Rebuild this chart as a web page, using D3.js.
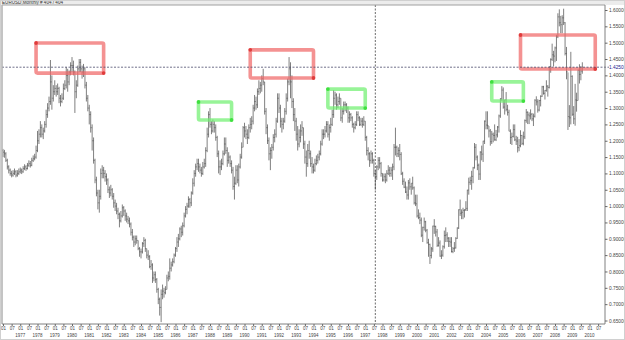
<!DOCTYPE html>
<html><head><meta charset="utf-8">
<script src="https://cdn.jsdelivr.net/npm/d3@7"></script>
<style>
html,body{margin:0;padding:0;background:#fff;}
svg{display:block;font-family:"Liberation Sans",Arial,sans-serif;}
</style></head>
<body>
<svg id="chart" width="625" height="340"></svg>
<script>
// ---------- DATA (EURUSD monthly, Jan 1976 .. Aug 2009) ----------
const title = "EURUSD,Monthly  # 404 / 404";
const startYear = 1976;
const firstOpen = 1.17;
const closes = [
 1.165,1.16,1.14,1.12,1.11,1.10,1.095,1.10,1.105,1.095,1.10,1.105,
 1.11,1.105,1.115,1.12,1.115,1.125,1.13,1.125,1.14,1.145,1.15,1.17,
 1.20,1.22,1.24,1.22,1.23,1.25,1.28,1.30,1.32,1.38,1.33,1.35,
 1.36,1.35,1.36,1.33,1.32,1.33,1.36,1.37,1.40,1.38,1.41,1.43,
 1.43,1.41,1.35,1.37,1.42,1.44,1.42,1.41,1.42,1.37,1.33,1.30,
 1.28,1.24,1.20,1.14,1.08,1.04,1.01,1.03,1.10,1.11,1.10,1.09,
 1.08,1.05,1.04,1.05,1.03,1.01,1.00,0.985,0.975,0.955,0.97,0.995,
 0.985,0.97,0.96,0.955,0.945,0.92,0.905,0.89,0.90,0.895,0.87,0.86,
 0.86,0.885,0.895,0.87,0.85,0.845,0.815,0.82,0.78,0.79,0.775,0.745,
 0.715,0.69,0.73,0.74,0.735,0.745,0.78,0.785,0.81,0.82,0.83,0.85,
 0.87,0.89,0.90,0.93,0.92,0.94,0.97,0.99,1.00,1.02,1.01,1.04,
 1.07,1.10,1.12,1.13,1.12,1.11,1.10,1.12,1.13,1.17,1.22,1.28,
 1.25,1.23,1.25,1.24,1.21,1.16,1.12,1.12,1.13,1.16,1.19,1.17,
 1.14,1.15,1.13,1.11,1.06,1.07,1.11,1.08,1.12,1.15,1.18,1.24,
 1.23,1.22,1.21,1.24,1.25,1.26,1.30,1.32,1.31,1.35,1.36,1.37,
 1.39,1.38,1.29,1.24,1.20,1.16,1.17,1.18,1.21,1.22,1.26,1.33,
 1.30,1.26,1.25,1.26,1.29,1.33,1.38,1.42,1.38,1.32,1.28,1.26,
 1.22,1.19,1.21,1.23,1.24,1.19,1.15,1.13,1.17,1.16,1.13,1.12,
 1.11,1.13,1.14,1.15,1.16,1.19,1.22,1.22,1.23,1.25,1.22,1.24,
 1.25,1.28,1.33,1.34,1.31,1.32,1.33,1.27,1.29,1.31,1.31,1.30,
 1.27,1.28,1.27,1.25,1.24,1.25,1.28,1.27,1.25,1.26,1.25,1.26,
 1.21,1.17,1.16,1.14,1.16,1.14,1.10,1.09,1.12,1.14,1.13,1.10,
 1.08,1.09,1.08,1.10,1.11,1.10,1.11,1.12,1.18,1.18,1.16,1.17,
 1.158,1.099,1.076,1.058,1.043,1.034,1.071,1.059,1.070,1.056,1.010,1.007,
 0.970,0.965,0.957,0.911,0.935,0.952,0.926,0.888,0.883,0.849,0.869,0.939,
 0.938,0.921,0.880,0.887,0.847,0.850,0.876,0.910,0.912,0.902,0.892,0.890,
 0.861,0.870,0.872,0.901,0.933,0.989,0.978,0.981,0.987,0.989,0.993,1.049,
 1.073,1.078,1.091,1.117,1.180,1.150,1.125,1.098,1.165,1.159,1.199,1.260,
 1.248,1.246,1.230,1.197,1.220,1.216,1.203,1.218,1.242,1.276,1.328,1.355,
 1.303,1.325,1.296,1.287,1.229,1.210,1.213,1.234,1.203,1.199,1.179,1.185,
 1.216,1.192,1.212,1.262,1.287,1.279,1.276,1.281,1.267,1.275,1.324,1.319,
 1.294,1.323,1.336,1.365,1.345,1.354,1.367,1.363,1.427,1.449,1.463,1.459,
 1.484,1.518,1.579,1.561,1.555,1.576,1.561,1.467,1.411,1.274,1.270,1.397,
 1.281,1.267,1.325,1.323,1.416,1.403,1.413,1.42501
];
const highs = [
 1.175,1.172,1.165,1.145,1.125,1.115,1.108,1.11,1.115,1.11,1.11,1.115,
 1.118,1.115,1.122,1.128,1.125,1.132,1.14,1.138,1.148,1.155,1.16,1.185,
 1.23,1.235,1.26,1.25,1.24,1.26,1.295,1.315,1.335,1.447,1.40,1.37,
 1.385,1.37,1.375,1.365,1.34,1.345,1.375,1.385,1.425,1.42,1.415,1.44,
 1.456,1.445,1.415,1.385,1.43,1.45,1.45,1.43,1.435,1.425,1.38,1.34,
 1.31,1.29,1.25,1.21,1.145,1.09,1.05,1.05,1.115,1.125,1.12,1.11,
 1.10,1.085,1.06,1.065,1.055,1.04,1.02,1.01,0.995,0.98,0.985,1.005,
 1.00,0.99,0.98,0.97,0.965,0.95,0.93,0.91,0.91,0.91,0.895,0.875,
 0.87,0.89,0.905,0.90,0.87,0.865,0.85,0.835,0.825,0.80,0.80,0.78,
 0.75,0.72,0.745,0.76,0.75,0.755,0.79,0.80,0.84,0.83,0.84,0.855,
 0.875,0.905,0.915,0.935,0.94,0.95,0.98,1.00,1.01,1.03,1.025,1.045,
 1.085,1.11,1.13,1.145,1.145,1.13,1.12,1.135,1.145,1.18,1.24,1.29,
 1.30,1.26,1.265,1.26,1.25,1.215,1.17,1.14,1.145,1.17,1.21,1.21,
 1.18,1.165,1.155,1.14,1.12,1.09,1.125,1.125,1.13,1.16,1.195,1.245,
 1.255,1.245,1.235,1.25,1.27,1.275,1.31,1.34,1.335,1.36,1.385,1.38,
 1.40,1.42,1.38,1.30,1.25,1.21,1.18,1.19,1.22,1.235,1.27,1.345,
 1.345,1.31,1.27,1.27,1.30,1.345,1.39,1.456,1.44,1.40,1.33,1.30,
 1.27,1.245,1.235,1.25,1.26,1.24,1.20,1.17,1.19,1.20,1.17,1.15,
 1.13,1.145,1.155,1.16,1.17,1.20,1.235,1.235,1.245,1.26,1.26,1.25,
 1.27,1.295,1.355,1.35,1.345,1.335,1.345,1.33,1.30,1.32,1.32,1.315,
 1.305,1.29,1.285,1.275,1.255,1.26,1.29,1.29,1.275,1.27,1.27,1.275,
 1.26,1.215,1.18,1.165,1.17,1.165,1.145,1.11,1.125,1.15,1.15,1.135,
 1.10,1.10,1.10,1.11,1.125,1.12,1.12,1.13,1.19,1.24,1.185,1.18,
 1.19,1.165,1.105,1.085,1.075,1.06,1.08,1.085,1.07,1.09,1.06,1.035,
 1.035,0.99,0.98,0.965,0.937,0.965,0.955,0.93,0.90,0.885,0.875,0.94,
 0.96,0.94,0.93,0.905,0.895,0.865,0.88,0.925,0.935,0.92,0.905,0.905,
 0.905,0.875,0.89,0.905,0.935,0.99,1.02,0.99,0.995,0.99,1.015,1.05,
 1.087,1.09,1.108,1.12,1.193,1.19,1.155,1.13,1.168,1.185,1.20,1.262,
 1.29,1.29,1.245,1.236,1.23,1.225,1.25,1.233,1.245,1.28,1.33,1.367,
 1.363,1.325,1.349,1.31,1.295,1.235,1.225,1.25,1.25,1.215,1.212,1.205,
 1.232,1.218,1.228,1.265,1.297,1.29,1.287,1.296,1.285,1.283,1.327,1.336,
 1.327,1.325,1.339,1.368,1.368,1.355,1.385,1.37,1.427,1.452,1.497,1.475,
 1.488,1.524,1.590,1.602,1.582,1.584,1.604,1.563,1.487,1.409,1.309,1.472,
 1.400,1.306,1.374,1.347,1.418,1.434,1.428,1.440
];
const lows = [
 1.150,1.148,1.135,1.112,1.10,1.093,1.088,1.09,1.095,1.088,1.09,1.095,
 1.10,1.098,1.102,1.11,1.108,1.112,1.12,1.118,1.122,1.135,1.14,1.145,
 1.165,1.19,1.21,1.21,1.205,1.225,1.24,1.27,1.29,1.31,1.295,1.32,
 1.34,1.335,1.34,1.315,1.305,1.315,1.325,1.355,1.36,1.35,1.37,1.40,
 1.41,1.40,1.285,1.33,1.365,1.41,1.41,1.39,1.395,1.36,1.32,1.29,
 1.25,1.225,1.17,1.13,1.07,1.03,0.99,0.98,1.02,1.085,1.085,1.075,
 1.065,1.04,1.025,1.03,1.02,0.995,0.985,0.975,0.96,0.935,0.95,0.965,
 0.97,0.955,0.95,0.945,0.935,0.91,0.895,0.875,0.88,0.885,0.865,0.845,
 0.84,0.855,0.875,0.86,0.84,0.835,0.81,0.805,0.765,0.77,0.765,0.735,
 0.70,0.665,0.645,0.715,0.72,0.73,0.745,0.77,0.775,0.80,0.815,0.825,
 0.845,0.86,0.875,0.895,0.905,0.91,0.935,0.965,0.975,0.995,0.995,1.00,
 1.035,1.06,1.09,1.11,1.105,1.10,1.09,1.095,1.115,1.12,1.165,1.21,
 1.24,1.22,1.225,1.225,1.20,1.15,1.10,1.095,1.11,1.125,1.155,1.16,
 1.12,1.13,1.12,1.10,1.05,1.02,1.065,1.07,1.06,1.115,1.145,1.18,
 1.21,1.205,1.19,1.205,1.225,1.235,1.25,1.29,1.295,1.30,1.34,1.345,
 1.35,1.37,1.28,1.22,1.19,1.14,1.11,1.145,1.17,1.195,1.21,1.255,
 1.285,1.24,1.225,1.235,1.255,1.28,1.32,1.37,1.33,1.30,1.26,1.23,
 1.20,1.17,1.18,1.195,1.215,1.175,1.13,1.09,1.12,1.145,1.12,1.10,
 1.10,1.105,1.125,1.13,1.14,1.155,1.185,1.205,1.21,1.225,1.21,1.20,
 1.225,1.245,1.27,1.31,1.295,1.30,1.31,1.26,1.255,1.28,1.29,1.285,
 1.255,1.255,1.26,1.24,1.225,1.235,1.245,1.26,1.245,1.245,1.24,1.245,
 1.20,1.155,1.14,1.12,1.13,1.13,1.09,1.05,1.08,1.11,1.115,1.09,
 1.075,1.075,1.07,1.075,1.095,1.09,1.09,1.08,1.11,1.155,1.15,1.15,
 1.14,1.095,1.065,1.055,1.04,1.02,1.02,1.05,1.035,1.05,1.005,1.00,
 0.965,0.96,0.945,0.905,0.89,0.925,0.92,0.885,0.845,0.823,0.84,0.86,
 0.915,0.907,0.875,0.876,0.845,0.838,0.845,0.87,0.89,0.89,0.875,0.875,
 0.858,0.856,0.86,0.87,0.90,0.93,0.97,0.96,0.96,0.965,0.985,0.985,
 1.035,1.065,1.05,1.07,1.115,1.14,1.11,1.08,1.08,1.14,1.135,1.19,
 1.235,1.235,1.21,1.185,1.19,1.195,1.20,1.199,1.21,1.225,1.27,1.322,
 1.298,1.28,1.29,1.277,1.229,1.19,1.187,1.21,1.199,1.187,1.164,1.168,
 1.18,1.187,1.186,1.205,1.255,1.251,1.251,1.265,1.26,1.245,1.271,1.308,
 1.286,1.29,1.305,1.334,1.341,1.326,1.35,1.335,1.36,1.408,1.444,1.427,
 1.440,1.444,1.514,1.550,1.529,1.529,1.554,1.461,1.388,1.233,1.242,1.250,
 1.276,1.251,1.246,1.289,1.323,1.375,1.385,1.405
];
// price axis ticks
const priceTicks = [1.60,1.55,1.50,1.45,1.40,1.35,1.30,1.25,1.20,1.15,1.10,1.05,1.00,0.95,0.90,0.85,0.80,0.75,0.70,0.65];
const monthTickLabels = ["01","07"];
const yearLabels = d3.range(1977, 2011);
// drawn rectangles (month range, price range)
const boxColors = ["red","red","red","green","green","green"];
const boxFrom  = ["1977-12","1990-05","2006-01","1987-05","1994-11","2004-05"];
const boxTo    = ["1981-11","1994-01","2010-05","1989-04","1997-01","2006-03"];
const boxTop   = [1.499,1.478,1.5235,1.3185,1.358,1.380];
const boxBottom= [1.407,1.392,1.4195,1.2634,1.300,1.3215];
const crossMonth = "1997-08";
const crossPrice = 1.42501;

// ---------- LAYOUT ----------
const W = 625, H = 340;
const plot = {left: 2, right: 605, top: 5, bottom: 324};
const svg = d3.select("#chart");

const monthIdx = s => { const [y, m] = s.split("-").map(Number); return (y - startYear) * 12 + (m - 1); };
const x = d3.scaleLinear().domain([0, 408]).range([3, 589.5]);
const y = d3.scaleLinear().domain([0.65, 1.60]).range([320.5, 10]);

const bars = closes.map((c, i) => ({i, o: i === 0 ? firstOpen : closes[i-1], h: highs[i], l: lows[i], c}));

// backgrounds
svg.append("rect").attr("x",0).attr("y",0).attr("width",W).attr("height",H).attr("fill","#fff");
svg.append("rect").attr("x",0).attr("y",0).attr("width",W).attr("height",plot.top).attr("fill","#ececec");

// title
svg.append("text").attr("x",2).attr("y",4.2).attr("font-size",4.6).attr("fill","#333").text(title);

// bars
const barCol = "#3a3a3a";
const gBars = svg.append("g");
gBars.selectAll("line.hl").data(bars).join("line").attr("class","hl")
  .attr("x1", d => x(d.i)).attr("x2", d => x(d.i))
  .attr("y1", d => y(d.h)).attr("y2", d => y(d.l))
  .attr("stroke",barCol).attr("stroke-width",0.65);
gBars.selectAll("line.op").data(bars).join("line").attr("class","op")
  .attr("x1", d => x(d.i) - 0.6).attr("x2", d => x(d.i))
  .attr("y1", d => y(d.o)).attr("y2", d => y(d.o))
  .attr("stroke",barCol).attr("stroke-width",0.6);
gBars.selectAll("line.cl").data(bars).join("line").attr("class","cl")
  .attr("x1", d => x(d.i)).attr("x2", d => x(d.i) + 0.6)
  .attr("y1", d => y(d.c)).attr("y2", d => y(d.c))
  .attr("stroke",barCol).attr("stroke-width",0.6);

// boxes
const col = {red: {s:"#f06868", d:"#e03c3c"}, green: {s:"#70f070", d:"#3fe03f"}};
const boxes = boxColors.map((c, k) => ({c, x0: x(monthIdx(boxFrom[k])), x1: x(monthIdx(boxTo[k])), y0: y(boxTop[k]), y1: y(boxBottom[k])}));
const gBox = svg.append("g");
gBox.selectAll("rect").data(boxes).join("rect")
  .attr("x", d => d.x0).attr("y", d => d.y0)
  .attr("width", d => d.x1 - d.x0).attr("height", d => d.y1 - d.y0)
  .attr("rx", 1.5).attr("fill","none")
  .attr("stroke", d => col[d.c].s).attr("stroke-width", 3.6).attr("stroke-opacity", 0.72);
gBox.selectAll("circle.a").data(boxes).join("circle").attr("class","a")
  .attr("cx", d => d.x0).attr("cy", d => d.y0).attr("r", 1.9).attr("fill", d => col[d.c].d);
gBox.selectAll("circle.b").data(boxes).join("circle").attr("class","b")
  .attr("cx", d => d.x1).attr("cy", d => d.y1).attr("r", 1.9).attr("fill", d => col[d.c].d);

// crosshair
const cx = x(monthIdx(crossMonth)), cy = y(crossPrice);
svg.append("line").attr("x1",cx).attr("x2",cx).attr("y1",plot.top).attr("y2",plot.bottom)
  .attr("stroke","#444").attr("stroke-width",0.8).attr("stroke-dasharray","2,1.5");
svg.append("line").attr("x1",plot.left).attr("x2",plot.right + 4).attr("y1",cy).attr("y2",cy)
  .attr("stroke","#4a4a6a").attr("stroke-width",0.8).attr("stroke-dasharray","2,1.5");

// frame
svg.append("line").attr("x1",plot.left).attr("x2",plot.right).attr("y1",plot.top).attr("y2",plot.top).attr("stroke","#a0a0a0");
svg.append("line").attr("x1",plot.left).attr("x2",plot.left).attr("y1",plot.top).attr("y2",plot.bottom).attr("stroke","#b0b0b0").attr("stroke-width",1.5);
svg.append("line").attr("x1",plot.right).attr("x2",plot.right).attr("y1",plot.top).attr("y2",plot.bottom).attr("stroke","#808080");
svg.append("line").attr("x1",plot.left).attr("x2",plot.right).attr("y1",plot.bottom).attr("y2",plot.bottom).attr("stroke","#808080");

// right price axis
const yAxis = d3.axisRight(y).tickValues(priceTicks).tickSize(2.5).tickPadding(1.5).tickFormat(d3.format(".5f"));
const gy = svg.append("g").attr("transform", `translate(${plot.right},0)`).call(yAxis);
gy.select(".domain").remove();
gy.selectAll("text").attr("font-size",4.8).attr("fill","#444").attr("font-family","Liberation Sans, Arial, sans-serif");
gy.selectAll("line").attr("stroke","#666");
svg.append("text").attr("x",plot.right + 4).attr("y",cy).attr("dy","0.35em")
  .attr("font-size",4.8).attr("fill","#1a1a90").text(d3.format(".5f")(crossPrice));

// bottom time axis
const halfYearTicks = d3.range(0, 415, 6);
const xAxis = d3.axisBottom(x).tickValues(halfYearTicks).tickSize(2).tickPadding(1)
  .tickFormat(i => monthTickLabels[(i / 6) % 2]);
const gx = svg.append("g").attr("transform", `translate(0,${plot.bottom})`).call(xAxis);
gx.select(".domain").remove();
gx.selectAll("text").attr("font-size",4.5).attr("fill","#444").attr("font-family","Liberation Sans, Arial, sans-serif");
gx.selectAll("line").attr("stroke","#666");
svg.append("g").selectAll("text").data(yearLabels).join("text")
  .attr("x", yr => x((yr - startYear) * 12)).attr("y", 337)
  .attr("text-anchor","middle").attr("font-size",4.5).attr("fill","#444")
  .text(yr => yr);

// outer frame
svg.append("rect").attr("x",0.5).attr("y",0.5).attr("width",W-1).attr("height",H-1).attr("fill","none").attr("stroke","#d0d0d0");
</script>
</body></html>
